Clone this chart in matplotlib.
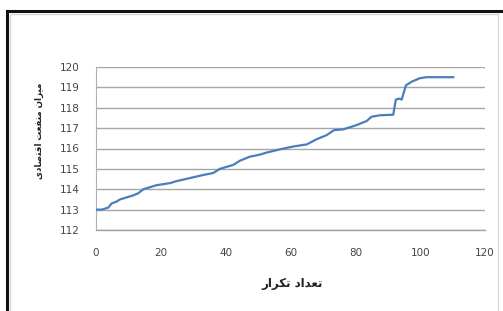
import matplotlib
matplotlib.use("Agg")
import matplotlib.pyplot as plt
from matplotlib.lines import Line2D
from matplotlib.patches import Rectangle

# iteration number vs economic benefit
iterations = [0, 1.8, 3.8, 4.8, 6.4, 7.4, 11.5, 13, 14.6, 18.7, 22.8, 24.9, 29, 33.1,
              36.2, 38.2, 42.4, 44.4, 47.5, 50.6, 52.6, 56.8, 60.9, 65, 68, 71.2,
              73.4, 76.3, 80.4, 83.5, 85, 87.6, 91.7, 92.5, 93.6, 94.3, 95.6, 97.4,
              99.9, 102, 110.2]
benefit = [113.0, 113.0, 113.1, 113.3, 113.4, 113.5, 113.7, 113.8, 114.0, 114.2,
           114.3, 114.4, 114.55, 114.7, 114.8, 115.0, 115.2, 115.4, 115.6, 115.7,
           115.8, 115.96, 116.1, 116.2, 116.45, 116.66, 116.9, 116.94, 117.15,
           117.35, 117.56, 117.63, 117.66, 118.4, 118.45, 118.4, 119.1, 119.28,
           119.45, 119.5, 119.5]

x_ticks = [0, 20, 40, 60, 80, 100, 120]
y_ticks = [112, 113, 114, 115, 116, 117, 118, 119, 120]


def shaped(glyphs):
    # arabic presentation forms, reversed for left-to-right drawing
    return "".join(chr(g) if isinstance(g, int) else g for g in reversed(glyphs))


# "تعداد تکرار"
xlabel = shaped([0xFE97, 0xFECC, 0xFEAA, 0xFE8D, 0xFEA9, " ",
                 0xFE97, 0xFB91, 0xFEAE, 0xFE8D, 0xFEAD])
# "میزان منفعت اقتصادی"
ylabel = shaped([0xFEE3, 0xFBFF, 0xFEB0, 0xFE8D, 0xFEE5, " ",
                 0xFEE3, 0xFEE8, 0xFED4, 0xFECC, 0xFE96, " ",
                 0xFE8D, 0xFED7, 0xFE98, 0xFEBB, 0xFE8E, 0xFEA9, 0xFBFC])

plt.rcParams["font.family"] = ["DejaVu Sans"]

W, H = 503, 311
fig = plt.figure(figsize=(W / 100, H / 100), dpi=100)
fig.patch.set_facecolor("white")

# frame of the cropped picture
fig.add_artist(Rectangle((10 / W, -0.1), 488 / W, 1 - 14 / H + 0.1,
                         transform=fig.transFigure, fill=False,
                         edgecolor="#d8d8d8", linewidth=1))
fig.add_artist(Line2D([7 / W, 1.0], [1 - 11 / H, 1 - 11 / H],
                      transform=fig.transFigure, color="#111111", linewidth=2.2))
fig.add_artist(Line2D([7 / W, 7 / W], [0, 1 - 11 / H],
                      transform=fig.transFigure, color="#111111", linewidth=2.2))

ax = fig.add_axes([96 / W, 1 - 230 / H, (485 - 96) / W, (230 - 67) / H])
ax.plot(iterations, benefit, color="#4a7ebb", linewidth=1.6, zorder=3)

ax.set_xlim(0, 120)
ax.set_ylim(112, 120)
ax.set_xticks(x_ticks)
ax.set_yticks(y_ticks)
ax.tick_params(axis="both", length=0, labelsize=7.5, colors="#444444")
ax.tick_params(axis="x", pad=13)
ax.tick_params(axis="y", pad=12)
ax.grid(axis="y", color="#a6a6a6", linewidth=1.0)
ax.set_axisbelow(True)
for side in ["top", "right"]:
    ax.spines[side].set_visible(False)
ax.spines["left"].set_color("#b0b0b0")
ax.spines["bottom"].set_color("#a0a0a0")
ax.spines["bottom"].set_linewidth(1.0)

fig.text(292 / W, 1 - 283 / H, xlabel, ha="center", va="center",
         fontsize=8.5, fontweight="bold", color="#222222")
fig.text(39 / W, 1 - 131 / H, ylabel, ha="center", va="center", rotation=90,
         fontsize=6.3, fontweight="bold", color="#222222")

fig.savefig("out.png", dpi=100)
